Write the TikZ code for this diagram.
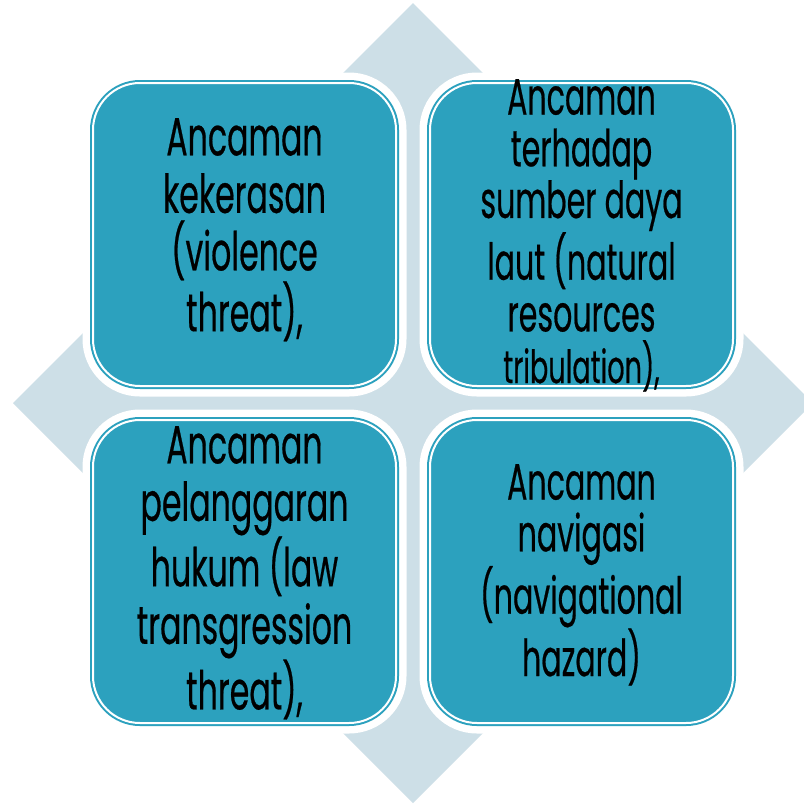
\documentclass[tikz,border=0pt]{standalone}
\usepackage{fontspec}
\setmainfont{Poppins}[FakeStretch=0.59,FakeBold=0.4]
\definecolor{boxfill}{HTML}{2CA1BE}
\definecolor{diam}{HTML}{CDDFE7}
\newcommand\fntA{\fontsize{53.6pt}{57.5pt}\selectfont}
\newcommand\fntB{\fontsize{51pt}{51.7pt}\selectfont}
\newcommand\fntC{\fontsize{46pt}{51.7pt}\selectfont}
\begin{document}
\begin{tikzpicture}[x=1pt,y=-1pt,
  card/.style={rectangle, minimum width=303pt, minimum height=303pt, inner sep=0pt,
    rounded corners=47pt,
    preaction={draw=white, line width=21pt},
    preaction={fill=boxfill, draw=boxfill, line width=6pt},
    draw=white, line width=2pt},
  lbl/.style={anchor=north, align=center, inner sep=0pt, text=black}]
\useasboundingbox (0,0) rectangle (804,804);
\fill[white] (0,0) rectangle (804,804);
\fill[diam] (413,3) -- (813,403) -- (413,803) -- (13,403) -- cycle;
\node[card] (tl) at (244.5,234.5) {};
\node[card] (tr) at (581.5,234.5) {};
\node[card] (bl) at (244.5,571.5) {};
\node[card] (br) at (581.5,571.5) {};
\node[lbl, font=\fntA] (tlt) at (244.5,118) {Ancaman\\kekerasan\\(violence\\threat),};
\node[lbl, font=\fntB] (trt) at (581.5,79) {Ancaman\\terhadap\\sumber daya\\laut (natural\\resources\\{\fntC tribulation),}};
\node[lbl, font=\fntA] (blt) at (244.5,426) {Ancaman\\pelanggaran\\hukum (law\\transgression\\threat),};
\node[lbl, font=\fntB] (brt) at (581.5,464) {Ancaman\\navigasi\\(navigational\\hazard)};
\end{tikzpicture}
\end{document}
